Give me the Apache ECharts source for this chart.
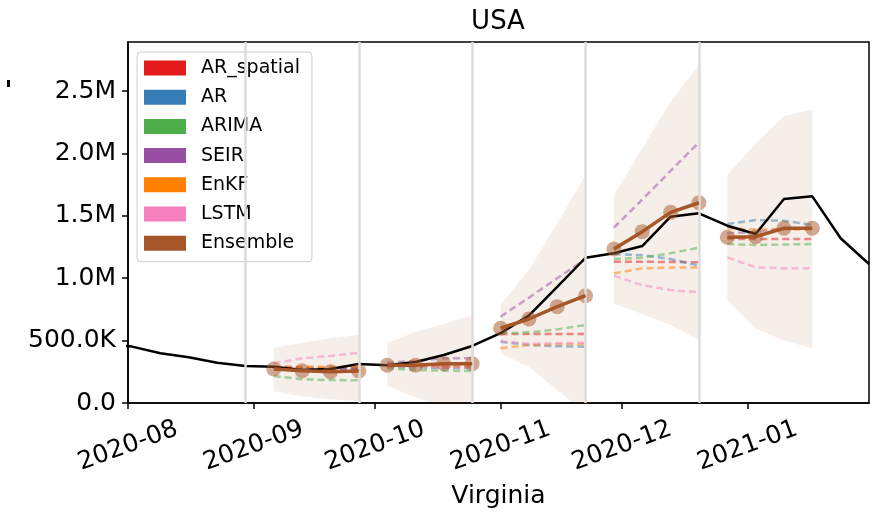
<!DOCTYPE html>
<html>
<head>
<meta charset="utf-8">
<script src="https://cdn.jsdelivr.net/npm/echarts@6.0.0/dist/echarts.min.js"></script>
<style>
  html, body { margin: 0; padding: 0; background: #fff; }
  #main { width: 884px; height: 514px; }
</style>
</head>
<body>
<div id="main"></div>
<script>
// weekly reported values (millions)
var truthDates = ['2020-07-26', '2020-08-02', '2020-08-09', '2020-08-16', '2020-08-23', '2020-08-30',
	'2020-09-06', '2020-09-13', '2020-09-20', '2020-09-27', '2020-10-04', '2020-10-11', '2020-10-18',
	'2020-10-25', '2020-11-01', '2020-11-08', '2020-11-15', '2020-11-22', '2020-11-29', '2020-12-06',
	'2020-12-13', '2020-12-20', '2020-12-27', '2021-01-03', '2021-01-10', '2021-01-17', '2021-01-24',
	'2021-01-31'];
var truthValues = [0.47, 0.452, 0.398, 0.366, 0.323, 0.296,
	0.291, 0.264, 0.272, 0.3125, 0.302, 0.329, 0.385,
	0.457, 0.56, 0.70, 0.93, 1.164, 1.20, 1.258,
	1.493, 1.52, 1.421, 1.354, 1.635, 1.656, 1.32,
	1.114];

// forecast issue dates (grey lines)
var cutoffDates = ['2020-08-30', '2020-09-27', '2020-10-25', '2020-11-22', '2020-12-20'];

// 1-4 week ahead target dates for each forecast round
var fcDates = [
	['2020-09-06', '2020-09-13', '2020-09-20', '2020-09-27'],
	['2020-10-04', '2020-10-11', '2020-10-18', '2020-10-25'],
	['2020-11-01', '2020-11-08', '2020-11-15', '2020-11-22'],
	['2020-11-29', '2020-12-06', '2020-12-13', '2020-12-20'],
	['2020-12-27', '2021-01-03', '2021-01-10', '2021-01-17']
];

var modelNames = ['AR_spatial', 'AR', 'ARIMA', 'SEIR', 'EnKF', 'LSTM', 'Ensemble'];

var arSpatial = [
	[0.29, 0.285, 0.28, 0.28],
	[0.30, 0.30, 0.30, 0.30],
	[0.552, 0.552, 0.552, 0.552],
	[1.132, 1.132, 1.13, 1.127],
	[1.314, 1.314, 1.314, 1.314]
];
var ar = [
	[0.275, 0.27, 0.27, 0.27],
	[0.29, 0.285, 0.28, 0.28],
	[0.49, 0.465, 0.455, 0.451],
	[1.194, 1.185, 1.154, 1.10],
	[1.434, 1.466, 1.461, 1.426]
];
var arima = [
	[0.216, 0.19, 0.184, 0.182],
	[0.278, 0.264, 0.259, 0.256],
	[0.558, 0.566, 0.59, 0.625],
	[1.154, 1.165, 1.20, 1.245],
	[1.274, 1.266, 1.27, 1.274]
];
var seir = [
	[0.285, 0.275, 0.27, 0.275],
	[0.323, 0.337, 0.358, 0.358],
	[0.692, 0.844, 1.0, 1.154],
	[1.405, 1.63, 1.86, 2.089],
	[1.36, 1.37, 1.40, 1.40]
];
var enkf = [
	[0.29, 0.29, 0.29, 0.29],
	[0.295, 0.295, 0.293, 0.293],
	[0.438, 0.465, 0.47, 0.47],
	[1.039, 1.079, 1.085, 1.085],
	[1.40, 1.39, 1.39, 1.39]
];
var lstm = [
	[0.318, 0.358, 0.377, 0.403],
	[0.295, 0.29, 0.285, 0.285],
	[0.497, 0.475, 0.48, 0.483],
	[1.02, 0.945, 0.905, 0.887],
	[1.167, 1.087, 1.079, 1.079]
];
var ensemble = [
	[0.272, 0.259, 0.251, 0.256],
	[0.302, 0.302, 0.315, 0.315],
	[0.599, 0.673, 0.772, 0.86],
	[1.234, 1.373, 1.528, 1.605],
	[1.328, 1.333, 1.40, 1.40]
];
var bandLow = [
	[0.095, 0.055, 0.03, 0.015],
	[0.136, 0.046, -0.03, -0.1],
	[0.398, 0.291, 0.104, -0.08],
	[0.795, 0.713, 0.625, 0.505],
	[0.825, 0.598, 0.50, 0.438]
];
var bandHigh = [
	[0.438, 0.483, 0.518, 0.545],
	[0.478, 0.571, 0.633, 0.705],
	[0.785, 1.066, 1.44, 1.827],
	[1.667, 2.04, 2.414, 2.708],
	[1.827, 2.08, 2.30, 2.353]
];

var yTicks = [0, 0.5, 1.0, 1.5, 2.0, 2.5];
var xTicks = ['2020-08-01', '2020-09-01', '2020-10-01', '2020-11-01', '2020-12-01', '2021-01-01'];
var xStart = '2020-08-01';
var xEnd = '2021-01-31';

// styles
var modelColors = {
	'AR_spatial': '#e41a1c',
	'AR': '#377eb8',
	'ARIMA': '#4daf4a',
	'SEIR': '#984ea3',
	'EnKF': '#ff7f00',
	'LSTM': '#f781bf',
	'Ensemble': '#a65628'
};
var FONT = 'DejaVu Sans';

function ts(s) {
	return echarts.number.parseDate(s).getTime();
}

function pairs(dates, vals) {
	return dates.map(function (d, i) { return [ts(d), vals[i]]; });
}

function yLabel(v) {
	if (v === 0) return '0.0';
	if (v < 1) return (v * 1000).toFixed(1) + 'K';
	return v.toFixed(1) + 'M';
}

// shaded band: one polygon per forecast round, drawn through the axes
function bandRenderItem(params, api) {
	if (params.dataIndex !== 0) {
		return null;
	}
	var g = params.seriesIndex - 1;
	var dates = fcDates[g];
	var pts = [];
	for (var i = 0; i < dates.length; i++) {
		pts.push(api.coord([ts(dates[i]), bandHigh[g][i]]));
	}
	for (var j = dates.length - 1; j >= 0; j--) {
		pts.push(api.coord([ts(dates[j]), bandLow[g][j]]));
	}
	return {
		type: 'polygon',
		shape: { points: pts },
		style: { fill: 'rgba(166,86,40,0.1)' }
	};
}

function buildSeries() {
	var series = [];
	var modelData = {
		'AR_spatial': arSpatial, 'AR': ar, 'ARIMA': arima,
		'SEIR': seir, 'EnKF': enkf, 'LSTM': lstm
	};

	// grey vertical lines at forecast dates
	series.push({
		type: 'line', name: 'cutoff', data: [], z: 1, silent: true,
		markLine: {
			silent: true, symbol: 'none', animation: false,
			label: { show: false },
			lineStyle: { color: '#dcdcdc', width: 2.5, type: 'solid' },
			data: cutoffDates.map(function (d) { return { xAxis: ts(d) }; })
		}
	});

	// bands first so that seriesIndex 1..5 are the rounds
	fcDates.forEach(function (dates, g) {
		series.push({
			type: 'custom', name: 'band', renderItem: bandRenderItem,
			data: dates.map(function (d, i) { return [ts(d), bandLow[g][i], bandHigh[g][i]]; }),
			encode: { x: 0, y: [1, 2] },
			clip: true, silent: true, z: 1
		});
	});

	fcDates.forEach(function (dates, g) {
		Object.keys(modelData).forEach(function (name) {
			series.push({
				type: 'line', name: name, data: pairs(dates, modelData[name][g]),
				symbol: 'none', z: 2,
				itemStyle: { color: modelColors[name] },
				lineStyle: { color: modelColors[name], width: 2.5, type: [7, 4], opacity: 0.5 }
			});
		});

		series.push({
			type: 'scatter', name: 'Ensemble', data: pairs(dates, ensemble[g]),
			symbolSize: 15, z: 4,
			itemStyle: { color: modelColors['Ensemble'], opacity: 0.5 }
		});
		series.push({
			type: 'line', name: 'Ensemble', data: pairs(dates, ensemble[g]),
			symbol: 'none', z: 5,
			itemStyle: { color: modelColors['Ensemble'] },
			lineStyle: { color: modelColors['Ensemble'], width: 3.5 }
		});
	});

	series.push({
		type: 'line', name: 'truth', data: pairs(truthDates, truthValues),
		symbol: 'none', z: 3,
		itemStyle: { color: '#000' },
		lineStyle: { color: '#000', width: 2.5 }
	});
	return series;
}

var chart = echarts.init(document.getElementById('main'));
var option = {
	animation: false,
	backgroundColor: '#fff',
	graphic: [
		{
			type: 'text', x: 498, y: 9,
			style: { text: 'USA', textAlign: 'center', fill: '#000', font: '26px "DejaVu Sans"' }
		},
		{ type: 'rect', shape: { x: 7, y: 80, width: 3, height: 7 }, style: { fill: '#000' } }
	],
	grid: {
		left: 128, right: 15, top: 42, bottom: 111,
		show: true, borderColor: '#000', borderWidth: 1.5,
		outerBoundsMode: 'none'
	},
	legend: {
		left: 137, top: 52, orient: 'vertical',
		padding: [6.5, 12, 9, 7],
		itemWidth: 42, itemHeight: 15, itemGap: 10.2,
		backgroundColor: 'rgba(255,255,255,0.85)',
		borderColor: '#cccccc', borderWidth: 1, borderRadius: 4,
		textStyle: { fontFamily: FONT, fontSize: 19, color: '#000', lineHeight: 19, padding: [0, 0, 0, 10] },
		selectedMode: false,
		data: modelNames.map(function (n) {
			return { name: n, icon: 'rect', itemStyle: { color: modelColors[n], opacity: 1, borderWidth: 0 } };
		})
	},
	xAxis: {
		type: 'value',
		min: ts(xStart), max: ts(xEnd),
		name: 'Virginia', nameLocation: 'middle', nameGap: 81,
		nameTextStyle: { fontFamily: FONT, fontSize: 25, color: '#000' },
		axisLine: { show: true, lineStyle: { color: '#000', width: 1.5 } },
		axisTick: {
			show: true, length: 6, lineStyle: { color: '#000', width: 1.5 },
			customValues: xTicks.map(ts)
		},
		axisLabel: {
			customValues: xTicks.map(ts),
			formatter: function (v) { return echarts.time.format(v, '{yyyy}-{MM}', false); },
			rotate: 20, align: 'center', verticalAlign: 'middle', margin: 43,
			fontFamily: FONT, fontSize: 25, color: '#000'
		},
		splitLine: { show: false }
	},
	yAxis: {
		type: 'value',
		min: 0, max: 2.893,
		axisLine: { show: true, lineStyle: { color: '#000', width: 1.5 } },
		axisTick: {
			show: true, length: 6, lineStyle: { color: '#000', width: 1.5 },
			customValues: yTicks
		},
		axisLabel: {
			customValues: yTicks,
			formatter: yLabel, margin: 12,
			fontFamily: FONT, fontSize: 25, color: '#000'
		},
		splitLine: { show: false }
	},
	series: buildSeries()
};
chart.setOption(option);
</script>
</body>
</html>
